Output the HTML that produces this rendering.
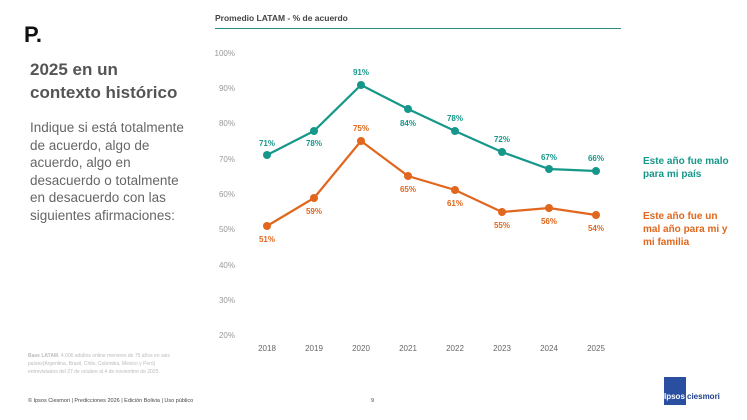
<!DOCTYPE html><html><head><meta charset="utf-8"><style>
body{margin:0;width:747px;height:420px;background:#fff;font-family:"Liberation Sans",sans-serif;position:relative;overflow:hidden}
.a{position:absolute}
</style></head><body>
<div class="a" style="left:24px;top:22px;font-size:22px;font-weight:bold;color:#111">P.</div>
<div class="a" style="left:30px;top:58px;font-size:17px;font-weight:bold;color:#555;line-height:23px">2025 en un<br>contexto histórico</div>
<div class="a" style="left:30px;top:119px;font-size:13.5px;color:#666;line-height:17.5px">Indique si está totalmente<br>de acuerdo, algo de<br>acuerdo, algo en<br>desacuerdo o totalmente<br>en desacuerdo con las<br>siguientes afirmaciones:</div>
<div class="a" style="left:28px;top:352px;font-size:5px;color:#bbb;line-height:8px"><b>Base LATAM</b>. 4.006 adultos online menores de 75 años en seis<br>países(Argentina, Brasil, Chile, Colombia, Mexico y Perú)<br>entrevistados del 27 de octubre al 4 de noviembre de 2025.</div>
<div class="a" style="left:28px;top:398px;font-size:5.5px;color:#444">© Ipsos Ciesmori | Predicciones 2026 | Edición Bolivia | Uso público</div>
<div class="a" style="left:371px;top:398px;font-size:5.5px;color:#444">9</div>
<div class="a" style="left:664px;top:377px;width:22px;height:28px;background:#2a4fa0"></div>
<div class="a" style="left:664px;top:392px;font-size:8px;color:#fff;font-weight:bold">Ipsos</div>
<div class="a" style="left:687px;top:392px;font-size:8px;color:#1f3f8a;font-weight:bold">ciesmori</div>
<div class="a" style="left:215px;top:13px;font-size:8.5px;font-weight:bold;color:#444">Promedio LATAM - % de acuerdo</div>
<div class="a" style="left:215px;top:28px;width:406px;height:1px;background:#2a8a80"></div>
<div class="a" style="left:643px;top:155px;font-size:10px;font-weight:bold;color:#15978a;line-height:13px">Este año fue malo<br>para mi país</div>
<div class="a" style="left:643px;top:210px;font-size:10px;font-weight:bold;color:#e0671d;line-height:13px">Este año fue un<br>mal año para mi y<br>mi familia</div>
<svg class="a" style="left:0;top:0" width="747" height="420" font-family="Liberation Sans,sans-serif">
<g font-size="8" fill="#999" text-anchor="end">
<text x="235" y="56">100%</text><text x="235" y="91">90%</text><text x="235" y="126">80%</text><text x="235" y="162">70%</text><text x="235" y="197">60%</text><text x="235" y="232">50%</text><text x="235" y="268">40%</text><text x="235" y="303">30%</text><text x="235" y="338">20%</text></g>
<g font-size="8" fill="#666" text-anchor="middle">
<text x="267" y="351">2018</text><text x="314" y="351">2019</text><text x="361" y="351">2020</text><text x="408" y="351">2021</text><text x="455" y="351">2022</text><text x="502" y="351">2023</text><text x="549" y="351">2024</text><text x="596" y="351">2025</text></g>
<polyline fill="none" stroke="#15978a" stroke-width="2.2" points="267,155 314,131 361,85 408,109 455,131 502,152 549,169 596,171"/>
<g fill="#15978a"><circle cx="267" cy="155" r="4"/><circle cx="314" cy="131" r="4"/><circle cx="361" cy="85" r="4"/><circle cx="408" cy="109" r="4"/><circle cx="455" cy="131" r="4"/><circle cx="502" cy="152" r="4"/><circle cx="549" cy="169" r="4"/><circle cx="596" cy="171" r="4"/></g>
<g font-size="8" font-weight="bold" fill="#15978a" text-anchor="middle">
<text x="267" y="146">71%</text><text x="314" y="146">78%</text><text x="361" y="75">91%</text><text x="408" y="126">84%</text><text x="455" y="121">78%</text><text x="502" y="142">72%</text><text x="549" y="160">67%</text><text x="596" y="161">66%</text></g>
<polyline fill="none" stroke="#e0671d" stroke-width="2.2" points="267,226 314,198 361,141 408,176 455,190 502,212 549,208 596,215"/>
<g fill="#e0671d"><circle cx="267" cy="226" r="4"/><circle cx="314" cy="198" r="4"/><circle cx="361" cy="141" r="4"/><circle cx="408" cy="176" r="4"/><circle cx="455" cy="190" r="4"/><circle cx="502" cy="212" r="4"/><circle cx="549" cy="208" r="4"/><circle cx="596" cy="215" r="4"/></g>
<g font-size="8" font-weight="bold" fill="#e0671d" text-anchor="middle">
<text x="267" y="242">51%</text><text x="314" y="214">59%</text><text x="361" y="131">75%</text><text x="408" y="192">65%</text><text x="455" y="206">61%</text><text x="502" y="228">55%</text><text x="549" y="224">56%</text><text x="596" y="231">54%</text></g>
</svg>
</body></html>
